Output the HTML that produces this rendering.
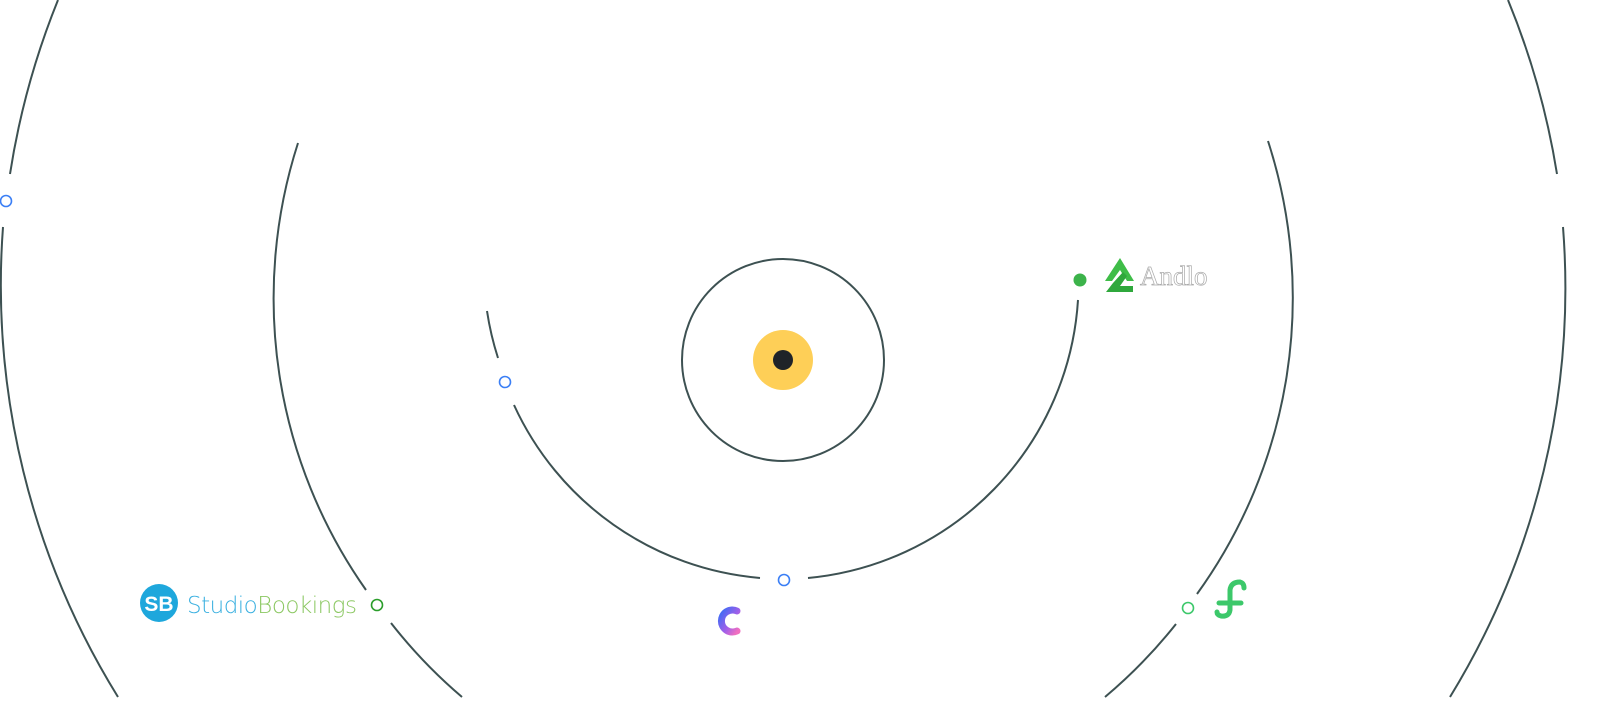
<!DOCTYPE html>
<html><head><meta charset="utf-8"><style>
html,body{margin:0;padding:0;background:#fff;width:1600px;height:714px;overflow:hidden}
</style></head><body>
<svg width="1600" height="714" viewBox="0 0 1600 714" xmlns="http://www.w3.org/2000/svg">
<defs>
<linearGradient id="cg" x1="0" y1="0" x2="1" y2="1"><stop offset="0" stop-color="#3d6cf5"/><stop offset="0.6" stop-color="#a35fe8"/><stop offset="1" stop-color="#f06fc0"/></linearGradient>
</defs>
<g fill="none" stroke="#3d5152" stroke-width="2">
<circle cx="783" cy="360" r="101"/>
<path d="M487,311 A298,298 0 0 0 498,358"/>
<path d="M514,405 A298,298 0 0 0 760,578"/>
<path d="M808,578 A298,298 0 0 0 1078,300"/>
<path d="M298,143 A506.5,506.5 0 0 0 366,590"/>
<path d="M391,623 A506.5,506.5 0 0 0 462,697"/>
<path d="M1268,141 A506.5,506.5 0 0 1 1197,594"/>
<path d="M1176,624 A506.5,506.5 0 0 1 1105,697"/>
<path d="M58,0 A783,783 0 0 0 10,174"/>
<path d="M3,227 A783,783 0 0 0 118,697"/>
<path d="M1508,0 A783,783 0 0 1 1557,174"/>
<path d="M1563,227 A783,783 0 0 1 1450,697"/>
</g>
<circle cx="783" cy="360" r="30" fill="#fecf57"/>
<circle cx="783" cy="360" r="10" fill="#1f2328"/>
<g fill="#fff" stroke-width="1.6">
<circle cx="6" cy="201" r="5.5" stroke="#3b7ff5"/>
<circle cx="505" cy="382" r="5.5" stroke="#3b7ff5"/>
<circle cx="784" cy="580" r="5.5" stroke="#3b7ff5"/>
<circle cx="377" cy="605" r="5.5" stroke="#2a9d2a"/>
<circle cx="1188" cy="608" r="5.5" stroke="#3cc86a"/>
</g>
<circle cx="1080" cy="280" r="6.5" fill="#3cb34a"/>
<!-- Andlo -->
<path d="M1105,281 L1120,258 L1134,281 L1127,281 L1120,270 L1112,281 Z" fill="#3fbd48"/>
<path d="M1113,283 L1123,272 L1127,276 L1120,286 L1133,286 L1133,292 L1106,292 Z" fill="#2fa83c"/>
<text x="1140" y="285" font-family="Liberation Serif, serif" font-size="27" fill="#fff" stroke="#aaa" stroke-width="0.7">Andlo</text>
<!-- StudioBookings -->
<circle cx="159" cy="603" r="19" fill="#1ea7dc"/>
<text x="159" y="611" text-anchor="middle" font-family="Liberation Sans, sans-serif" font-size="21" fill="#fff" font-weight="bold">SB</text>
<text x="187" y="613" font-family="DejaVu Sans, sans-serif" font-weight="200" font-size="23" letter-spacing="-0.5"><tspan fill="#3ab0e0">Studio</tspan><tspan fill="#8cc863">Bookings</tspan></text>
<!-- C logo -->
<path d="M737,611 A11,11 0 1 0 737,631" fill="none" stroke="url(#cg)" stroke-width="7" stroke-linecap="round"/>
<!-- fj logo -->
<path d="M1230,604 L1230,590 Q1231,582 1240,582 Q1244,583 1244,588" fill="none" stroke="#3cc86a" stroke-width="5" stroke-linecap="round"/>
<path d="M1219,603 L1241,603" stroke="#3cc86a" stroke-width="5" stroke-linecap="round"/>
<path d="M1230,604 L1230,610 Q1229,617 1221,616 Q1217,615 1217,612" fill="none" stroke="#3cc86a" stroke-width="5" stroke-linecap="round"/>
</svg>
</body></html>
